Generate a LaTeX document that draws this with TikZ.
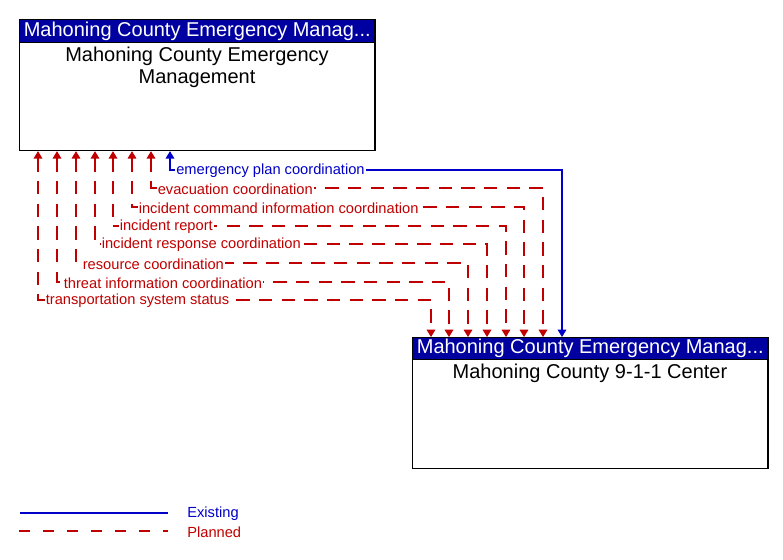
\documentclass[tikz,border=0pt]{standalone}
\usepackage{fontspec}
\setmainfont{Liberation Sans}
\usetikzlibrary{arrows.meta,calc}
\definecolor{hdrblue}{RGB}{0,0,160}
\definecolor{exblue}{RGB}{0,0,200}
\definecolor{plred}{RGB}{192,0,0}
\begin{document}
\begin{tikzpicture}[x=0.75pt,y=-0.75pt,
  box/.style={draw=black,line width=0.9pt,fill=white,rectangle,inner sep=0pt,anchor=north west,minimum width=266.5pt,minimum height=98.25pt},
  hdr/.style={fill=hdrblue,draw=black,line width=0.9pt,rectangle,inner sep=0pt,anchor=north west,minimum width=266.5pt,text=white,font=\fontsize{15}{16.5}\selectfont},
  body/.style={anchor=north,inner sep=0pt,align=center,font=\fontsize{15}{16.5}\selectfont},
  arr/.style={{Triangle[width=6.5pt,length=5.5pt]}-{Triangle[width=6.5pt,length=5.5pt]}},
  existing/.style={draw=exblue,line width=0.8pt},
  planned/.style={draw=plred,line width=0.8pt,dash pattern=on 10pt off 7pt},
  legplanned/.style={draw=plred,line width=0.8pt,dash pattern=on 8pt off 10pt},
  lbl/.style={anchor=west,fill=white,inner sep=0.8pt,font=\fontsize{11}{12}\selectfont},
  exlbl/.style={lbl,text=exblue},
  pllbl/.style={lbl,text=plred}
]
\useasboundingbox (0,0) rectangle (783,560);
% boxes
\node[box] (top) at (19,19) {};
\node[hdr,minimum height=17pt] (toph) at (19,19) {Mahoning County Emergency Manag...};
\node[body] (topt) at (197,46.5) {Mahoning County Emergency\\Management};
\node[box] (bot) at (412,337) {};
\node[hdr,minimum height=16.5pt] (both) at (412,337) {Mahoning County Emergency Manag...};
\node[body] (bott) at (590,364) {Mahoning County 9-1-1 Center};
% corners
\coordinate (c1) at (170,170); \coordinate (b1) at (562,170);
\coordinate (c2) at (151,188); \coordinate (b2) at (543,188);
\coordinate (c3) at (132,207); \coordinate (b3) at (524,207);
\coordinate (c4) at (113,226); \coordinate (b4) at (506,226);
\coordinate (c5) at (95,244);  \coordinate (b5) at (487,244);
\coordinate (c6) at (76,263);  \coordinate (b6) at (468,263);
\coordinate (c7) at (57,282);  \coordinate (b7) at (449,282);
\coordinate (c8) at (38,300);  \coordinate (b8) at (431,300);
% connectors
\draw[existing,arr] (c1 |- top.south) -- (c1) -- (b1) -- (b1 |- bot.north);
\foreach \i in {2,...,8}{
  \draw[planned,arr] (c\i |- top.south) -- (c\i) -- (b\i) -- (b\i |- bot.north);
}
% labels
\node[exlbl] (l1) at ($(c1)+(5,1)$) {emergency plan coordination};
\node[pllbl] (l2) at ($(c2)+(5.5,1)$) {evacuation coordination};
\node[pllbl] (l3) at ($(c3)+(5.5,1)$) {incident command information coordination};
\node[pllbl] (l4) at ($(c4)+(5.5,1)$) {incident report};
\node[pllbl] (l5) at ($(c5)+(5.5,1)$) {incident response coordination};
\node[pllbl] (l6) at ($(c6)+(5.5,1)$) {resource coordination};
\node[pllbl] (l7) at ($(c7)+(5.5,1)$) {threat information coordination};
\node[pllbl] (l8) at ($(c8)+(6.5,1)$) {transportation system status};
% legend
\coordinate (e1) at (20,513); \coordinate (e2) at (168,513);
\coordinate (p1) at (19,531); \coordinate (p2) at (168,531);
\draw[existing] (e1) -- (e2);
\draw[legplanned] (p1) -- (p2);
\node[exlbl,fill=none] (le) at (186,514) {Existing};
\node[pllbl,fill=none] (lp) at (186,532) {Planned};
\end{tikzpicture}
\end{document}
